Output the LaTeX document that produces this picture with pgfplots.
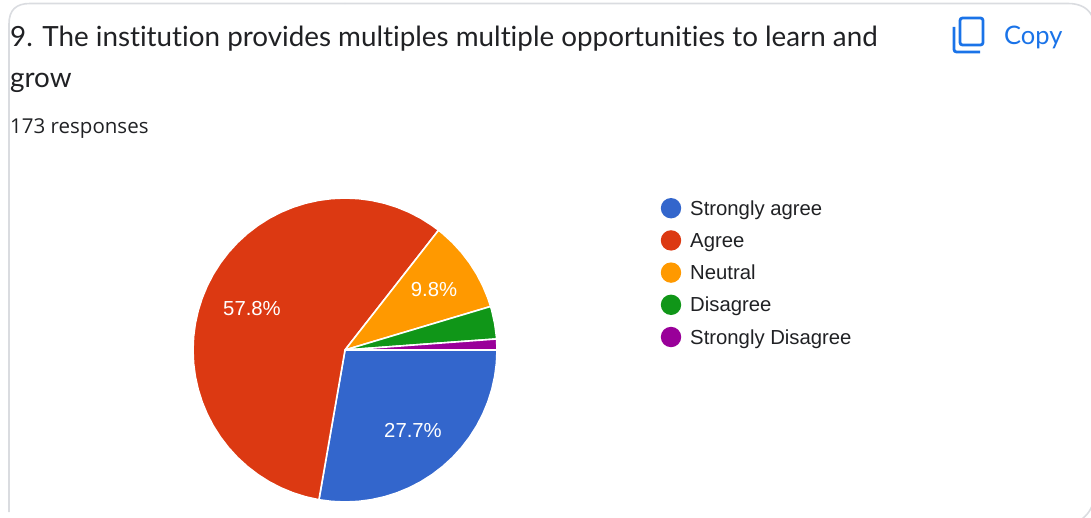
\documentclass[border=0pt]{standalone}
\usepackage{pgfplots}
\pgfplotsset{compat=1.18}
\usepackage{fontspec}
\setmainfont{Liberation Sans}
\newfontfamily\titlefont[Ligatures=NoCommon]{Lato}
\newfontfamily\subfont{Open Sans}
\definecolor{cblue}{HTML}{3366CC}
\definecolor{cred}{HTML}{DC3912}
\definecolor{corange}{HTML}{FF9900}
\definecolor{cgreen}{HTML}{109618}
\definecolor{cpurple}{HTML}{990099}
\definecolor{cink}{HTML}{202124}
\definecolor{ccopy}{HTML}{1A73E8}
\definecolor{cborder}{HTML}{DADCE0}
\begin{document}
\begin{tikzpicture}
\begin{axis}[
  scale only axis,
  width=1091bp, height=518bp,
  xmin=0, xmax=1091, ymin=0, ymax=518,
  y dir=reverse,
  hide axis,
  clip=true,
  legend image code/.code={\fill[#1,draw=none] (0bp,2bp) circle (10.2bp);},
  legend style={
    at={(axis cs:660.8,198.0)}, anchor=north west,
    draw=none, fill=none,
    inner sep=0pt, outer sep=0pt,
    row sep=10bp,
    /tikz/column 1/.style={column sep=9bp},
    font=\fontsize{20.3bp}{24bp}\selectfont\color{cink},
    nodes={inner sep=0pt, text height=15bp, text depth=5bp},
  },
  legend cell align=left,
]
% Strongly agree: 48 of 173
\addplot[fill=cblue, draw=white, line width=1.6bp] coordinates {
(345,350)(497,350)(496.42,363.25)(494.69,376.39)(491.82,389.34)(487.83,401.99)(482.76,414.24)(476.64,426)(469.51,437.18)(461.44,447.70)(452.48,457.48)(442.70,466.44)(432.18,474.51)(421,481.64)(409.24,487.76)(396.99,492.83)(384.34,496.82)(371.39,499.69)(358.25,501.42)(345,502)(331.75,501.42)(318.92,499.75)(345,350)} \closedcycle;
\addlegendentry{Strongly agree}
% Agree: 100 of 173
\addplot[fill=cred, draw=white, line width=1.6bp] coordinates {
(345,350)(318.92,499.75)(305.66,496.82)(293.01,492.83)(280.76,487.76)(269,481.64)(257.82,474.51)(247.30,466.44)(237.52,457.48)(228.56,447.70)(220.49,437.18)(213.36,426)(207.24,414.24)(202.17,401.99)(198.18,389.34)(195.31,376.39)(193.58,363.25)(193,350)(193.58,336.75)(195.31,323.61)(198.18,310.66)(202.17,298.01)(207.24,285.76)(213.36,274)(220.49,262.82)(228.56,252.30)(237.52,242.52)(247.30,233.56)(257.82,225.49)(269,218.36)(280.76,212.24)(293.01,207.17)(305.66,203.18)(318.61,200.31)(331.75,198.58)(345,198)(358.25,198.58)(371.39,200.31)(384.34,203.18)(396.99,207.17)(409.24,212.24)(421,218.36)(432.18,225.49)(438.56,230.21)(345,350)};
\addlegendentry{Agree}
% Neutral: 17 of 173
\addplot[fill=corange, draw=white, line width=1.6bp] coordinates {
(345,350)(438.56,230.21)(442.70,233.56)(452.48,242.52)(461.44,252.30)(469.51,262.82)(476.64,274)(482.76,285.76)(487.83,298.01)(490.63,306.45)(345,350)};
\addlegendentry{Neutral}
% Disagree: 6 of 173
\addplot[fill=cgreen, draw=white, line width=1.6bp] coordinates {
(345,350)(490.63,306.45)(491.82,310.66)(494.69,323.61)(496.42,336.75)(496.6,338.97)(345,350)};
\addlegendentry{Disagree}
% Strongly Disagree: 2 of 173
\addplot[fill=cpurple, draw=white, line width=1.6bp] coordinates {
(345,350)(496.6,338.97)(497,350)(345,350)};
\addlegendentry{Strongly Disagree}

% pie labels
\node[text=white, font=\fontsize{20.3bp}{24bp}\selectfont] at (axis cs:252,309) {57.8\%};
\node[text=white, font=\fontsize{20.3bp}{24bp}\selectfont] at (axis cs:434,290) {9.8\%};
\node[text=white, font=\fontsize{20.3bp}{24bp}\selectfont] at (axis cs:413,430) {27.7\%};

% card border
\draw[cborder, line width=1.6bp] (axis cs:9,512) -- (axis cs:9,24) .. controls (axis cs:9,10) and (axis cs:16,3.5) .. (axis cs:30,3.5) -- (axis cs:1068,3.5) .. controls (axis cs:1080,3.5) and (axis cs:1088,8) .. (axis cs:1092,16);
\draw[cborder, line width=1.6bp] (axis cs:1092,506) .. controls (axis cs:1090,511) and (axis cs:1087,515) .. (axis cs:1082,519);

% title and responses
\node[anchor=base west, inner sep=0pt, text=cink, font=\titlefont\fontsize{27.8bp}{34bp}\selectfont] at (axis cs:10,47) {9. The institution provides multiples multiple opportunities to learn and};
\node[anchor=base west, inner sep=0pt, text=cink, font=\titlefont\fontsize{27.8bp}{34bp}\selectfont] at (axis cs:10,88) {grow};
\node[anchor=base west, inner sep=0pt, text=cink, font=\subfont\fontsize{20.5bp}{24bp}\selectfont] at (axis cs:10,133.5) {173 responses};

% copy icon
\draw[ccopy, line width=2.8bp, rounded corners=2.5bp] (axis cs:960,18) rectangle (axis cs:983,45);
\draw[ccopy, line width=2.8bp, rounded corners=2.5bp] (axis cs:954,27) -- (axis cs:954,52) -- (axis cs:980,52);
\node[anchor=base west, inner sep=0pt, text=ccopy, font=\titlefont\fontsize{25.5bp}{30bp}\selectfont] at (axis cs:1004,44.5) {Copy};
\end{axis}
\pgfresetboundingbox
\useasboundingbox (0,0) rectangle (1091bp,518bp);
\end{tikzpicture}
\end{document}
